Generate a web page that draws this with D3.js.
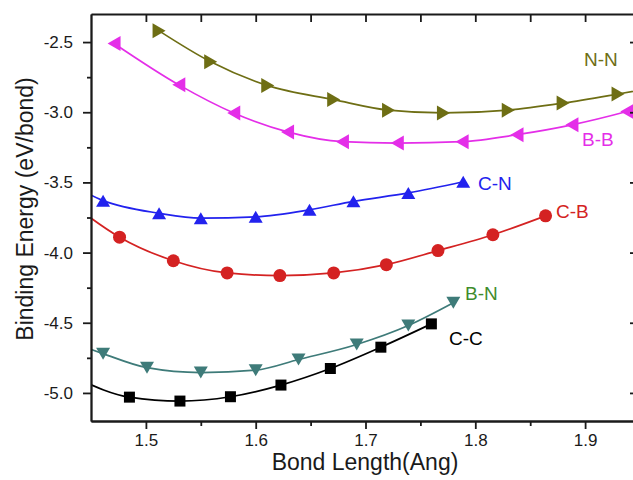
<!DOCTYPE html>
<html>
<head>
<meta charset="utf-8">
<script src="https://cdn.jsdelivr.net/npm/d3@7"></script>
<style>
  body { margin: 0; background: #fff; }
  text { font-family: "Liberation Sans", Arial, sans-serif; }
</style>
</head>
<body>
<div id="chart"></div>
<script>
// values (points just outside the frame are clipped)
const nnX = [1.512, 1.559, 1.611, 1.671, 1.721, 1.771, 1.830, 1.880, 1.930, 1.980];
const nnY = [-2.42, -2.64, -2.81, -2.91, -2.985, -3.005, -2.985, -2.935, -2.87, -2.80];
const bbX = [1.471, 1.530, 1.580, 1.629, 1.679, 1.729, 1.788, 1.838, 1.888, 1.938, 1.988];
const bbY = [-2.51, -2.805, -3.005, -3.14, -3.21, -3.22, -3.21, -3.16, -3.09, -2.995, -2.88];
const cnX = [1.42, 1.461, 1.512, 1.550, 1.600, 1.649, 1.689, 1.739, 1.789];
const cnY = [-3.46, -3.63, -3.72, -3.755, -3.745, -3.695, -3.635, -3.575, -3.495];
const cbX = [1.428, 1.476, 1.525, 1.574, 1.622, 1.671, 1.719, 1.766, 1.816, 1.864];
const cbY = [-3.626, -3.89, -4.058, -4.145, -4.164, -4.145, -4.086, -3.986, -3.873, -3.738];
const bnX = [1.42, 1.461, 1.501, 1.550, 1.600, 1.639, 1.692, 1.739, 1.780];
const bnY = [-4.60, -4.72, -4.82, -4.855, -4.838, -4.762, -4.655, -4.52, -4.358];
const ccX = [1.438, 1.485, 1.531, 1.577, 1.623, 1.668, 1.714, 1.760];
const ccY = [-4.90, -5.03, -5.058, -5.027, -4.944, -4.826, -4.674, -4.508];

const xMajor = [1.5, 1.6, 1.7, 1.8, 1.9];
const xMinor = [1.55, 1.65, 1.75, 1.85];
const yMajor = [-2.5, -3.0, -3.5, -4.0, -4.5, -5.0];
const yMinor = [-2.75, -3.25, -3.75, -4.25, -4.75];

const series = [
  { name: "N-N", xs: nnX, ys: nnY, color: "#6e6e14", text: "#6e6e14", shape: "right", lx: 584, ly: 66 },
  { name: "B-B", xs: bbX, ys: bbY, color: "#e42ee8", text: "#e42ee8", shape: "left", lx: 582, ly: 146 },
  { name: "C-N", xs: cnX, ys: cnY, color: "#2222ee", text: "#2222ee", shape: "up", lx: 478, ly: 190 },
  { name: "C-B", xs: cbX, ys: cbY, color: "#d42222", text: "#d42222", shape: "circle", lx: 556, ly: 218 },
  { name: "B-N", xs: bnX, ys: bnY, color: "#3e7b79", text: "#3f8c2c", shape: "down", lx: 465, ly: 300 },
  { name: "C-C", xs: ccX, ys: ccY, color: "#000000", text: "#000000", shape: "square", lx: 449, ly: 345 }
];

const W = 633, H = 480;
const margin = { top: 14, right: -7, bottom: 59, left: 91 },
      width = W - margin.left - margin.right,
      height = H - margin.top - margin.bottom;

const svg = d3.select("#chart").append("svg")
    .attr("width", W)
    .attr("height", H);

const g = svg.append("g")
    .attr("transform", `translate(${margin.left},${margin.top})`);

const x = d3.scaleLinear().domain([1.45, 1.95]).range([0, width]);
const y = d3.scaleLinear().domain([-5.2, -2.3]).range([height, 0]);

g.append("clipPath").attr("id", "clip")
  .append("rect").attr("width", width).attr("height", height);

// marker shapes
function marker(shape, cx, cy) {
    const h = 7, L = 13;
    if (shape === "right") return `M${cx - L / 2},${cy - h - 0.5}L${cx + L / 2},${cy}L${cx - L / 2},${cy + h + 0.5}Z`;
    if (shape === "left") return `M${cx + L / 2},${cy - h - 0.5}L${cx - L / 2},${cy}L${cx + L / 2},${cy + h + 0.5}Z`;
    if (shape === "up") return `M${cx - h},${cy + 6}L${cx},${cy - 6}L${cx + h},${cy + 6}Z`;
    if (shape === "down") return `M${cx - h},${cy - 6}L${cx},${cy + 6}L${cx + h},${cy - 6}Z`;
    if (shape === "square") return `M${cx - 5.5},${cy - 5.5}h11v11h-11Z`;
    return "";
}

const plot = g.append("g").attr("clip-path", "url(#clip)");

const line = d3.line().curve(d3.curveMonotoneX).x(d => x(d[0])).y(d => y(d[1]));

series.forEach(s => {
    const pts = s.xs.map((v, i) => [v, s.ys[i]]);
    plot.append("path")
        .datum(pts)
        .attr("fill", "none")
        .attr("stroke", s.color)
        .attr("stroke-width", 1.7)
        .attr("d", line);

    if (s.shape === "circle") {
        plot.selectAll(null).data(pts).enter().append("circle")
            .attr("cx", d => x(d[0]))
            .attr("cy", d => y(d[1]))
            .attr("r", 6.5)
            .attr("fill", s.color);
    } else {
        plot.selectAll(null).data(pts).enter().append("path")
            .attr("d", d => marker(s.shape, x(d[0]), y(d[1])))
            .attr("fill", s.color);
    }

    svg.append("text")
        .attr("x", s.lx)
        .attr("y", s.ly)
        .attr("fill", s.text)
        .style("font-size", "19px")
        .text(s.name);
});

// axes
const fmt = d => d.toFixed(1);

g.append("g").attr("class", "axis")
    .attr("transform", `translate(0,${height})`)
    .call(d3.axisBottom(x).tickValues(xMajor).tickFormat(fmt).tickSize(8).tickPadding(5).tickSizeOuter(0));
g.append("g").attr("class", "axis minor")
    .attr("transform", `translate(0,${height})`)
    .call(d3.axisBottom(x).tickValues(xMinor).tickFormat("").tickSize(5).tickSizeOuter(0));

g.append("g").attr("class", "axis")
    .call(d3.axisLeft(y).tickValues(yMajor).tickFormat(fmt).tickSize(8).tickPadding(10).tickSizeOuter(0));
g.append("g").attr("class", "axis minor")
    .call(d3.axisLeft(y).tickValues(yMinor).tickFormat("").tickSize(4).tickSizeOuter(0));

g.append("g").attr("class", "axis")
    .call(d3.axisTop(x).tickValues(xMajor.concat(xMinor)).tickFormat("").tickSize(-8).tickSizeOuter(0));

g.append("g").attr("class", "axis")
    .attr("transform", `translate(${width},0)`)
    .call(d3.axisRight(y).tickValues(yMajor).tickFormat("").tickSize(-10).tickSizeOuter(0));

g.selectAll(".axis path, .axis line")
    .attr("stroke", "#1a1a1a")
    .attr("stroke-width", 1.8);
g.selectAll(".axis text")
    .attr("fill", "#1a1a1a")
    .style("font-size", "17px")
    .style("font-family", "'Liberation Sans', Arial, sans-serif");

// axis titles
svg.append("text")
    .attr("text-anchor", "middle")
    .attr("x", 365)
    .attr("y", 470)
    .attr("fill", "#1a1a1a")
    .style("font-size", "23px")
    .text("Bond Length(Ang)");

svg.append("text")
    .attr("text-anchor", "middle")
    .attr("transform", "rotate(-90)")
    .attr("x", -209)
    .attr("y", 33)
    .attr("fill", "#1a1a1a")
    .style("font-size", "23px")
    .text("Binding Energy (eV/bond)");
</script>
</body>
</html>
